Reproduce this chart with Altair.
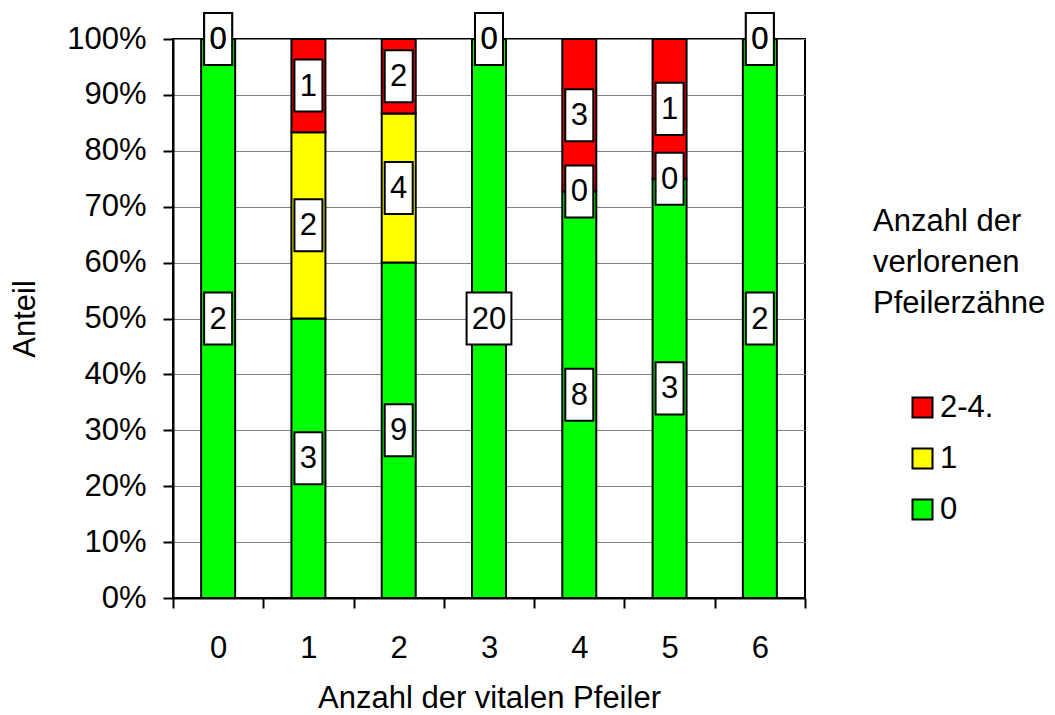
import altair as alt
import pandas as pd

# Number of vital abutments (x categories) and number of lost abutment teeth (stack groups)
categories = ["0", "1", "2", "3", "4", "5", "6"]
groups = ["0", "1", "2-4."]
group_colors = ["#00FF00", "#FFFF00", "#FF0000"]

# Case counts per category for each group
count_lost_0 = [2, 3, 9, 20, 8, 3, 2]
count_lost_1 = [0, 2, 4, 0, 0, 0, 0]
count_lost_2_4 = [0, 1, 2, 0, 3, 1, 0]

legend_title = ["Anzahl der", "verlorenen", "Pfeilerzähne"]

rows = []
for order, (grp, counts) in enumerate(zip(groups, [count_lost_0, count_lost_1, count_lost_2_4])):
    for cat, n in zip(categories, counts):
        rows.append({"cat": cat, "grp": grp, "ord": order, "n": n})
df = pd.DataFrame(rows)

FONT = "Liberation Sans"
FS = 31

# label boxes: narrow for one digit, wider for two digits
BOX_NARROW = "M-1,-1.86L1,-1.86L1,1.86L-1,1.86Z"
BOX_WIDE = "M-1.6,-1.86L1.6,-1.86L1.6,1.86L-1.6,1.86Z"

base = alt.Chart(df).transform_stack(
    stack="n",
    groupby=["cat"],
    as_=["y0", "y1"],
    sort=[alt.SortField("ord", order="ascending")],
    offset="normalize",
).transform_calculate(
    mid="(datum.y0 + datum.y1) / 2",
    label="'' + datum.n",
    box=f"length('' + datum.n) > 1 ? '{BOX_WIDE}' : '{BOX_NARROW}'",
)

x_enc = alt.X(
    "cat:N",
    sort=categories,
    scale=alt.Scale(paddingInner=0, paddingOuter=0),
    axis=alt.Axis(
        title="Anzahl der vitalen Pfeiler",
        labelAngle=0,
        tickBand="extent",
        tickSize=10,
        tickWidth=2,
        tickColor="black",
        domainColor="black",
        domainWidth=2,
        labelPadding=25,
        titlePadding=20,
    ),
)

bars = base.mark_bar(stroke="black", strokeWidth=2, width=34).encode(
    x=x_enc,
    y=alt.Y(
        "y0:Q",
        scale=alt.Scale(domain=[0, 1]),
        axis=alt.Axis(
            title="Anteil",
            format=".0%",
            values=[i / 10 for i in range(11)],
            grid=True,
            gridColor="#808080",
            gridWidth=1,
            tickSize=10,
            tickWidth=2,
            tickColor="black",
            domainColor="black",
            domainWidth=2,
            labelPadding=17,
            titlePadding=25,
        ),
    ),
    y2="y1:Q",
    color=alt.Color(
        "grp:N",
        scale=alt.Scale(domain=groups[::-1], range=group_colors[::-1]),
        legend=alt.Legend(
            orient="none",
            legendX=700,
            legendY=168,
            title=legend_title,
            titleFontSize=FS,
            titleFontWeight="normal",
            titleLineHeight=41,
            titlePadding=72,
            labelFontSize=FS,
            symbolType="square",
            symbolSize=400,
            symbolStrokeColor="black",
            symbolStrokeWidth=2,
            symbolOpacity=1,
            symbolOffset=34,
            labelOffset=2,
            rowPadding=19,
        ),
    ),
)

boxes = base.mark_point(
    filled=True, fill="white", stroke="black", strokeWidth=2, opacity=1, size=784
).encode(
    x=alt.X("cat:N", sort=categories),
    y=alt.Y("mid:Q"),
    shape=alt.Shape("box:N", scale=None, legend=None),
)

labels = base.mark_text(fontSize=FS, font=FONT, color="black", baseline="middle", dy=1).encode(
    x=alt.X("cat:N", sort=categories),
    y=alt.Y("mid:Q"),
    text="label:N",
)

chart = (
    alt.layer(bars, boxes, labels)
    .properties(
        width=632,
        height=559,
        autosize=alt.AutoSizeParams(type="none"),
        padding={"left": 173, "top": 39, "right": 250, "bottom": 117},
    )
    .configure(font=FONT)
    .configure_view(stroke="black", strokeWidth=2)
    .configure_axis(
        labelFont=FONT,
        titleFont=FONT,
        labelFontSize=FS,
        titleFontSize=FS,
        titleFontWeight="normal",
        labelColor="black",
        titleColor="black",
    )
    .configure_legend(labelFont=FONT, titleFont=FONT, labelColor="black", titleColor="black")
)

chart.save("out.html", embed_options={"renderer": "svg", "actions": False})
